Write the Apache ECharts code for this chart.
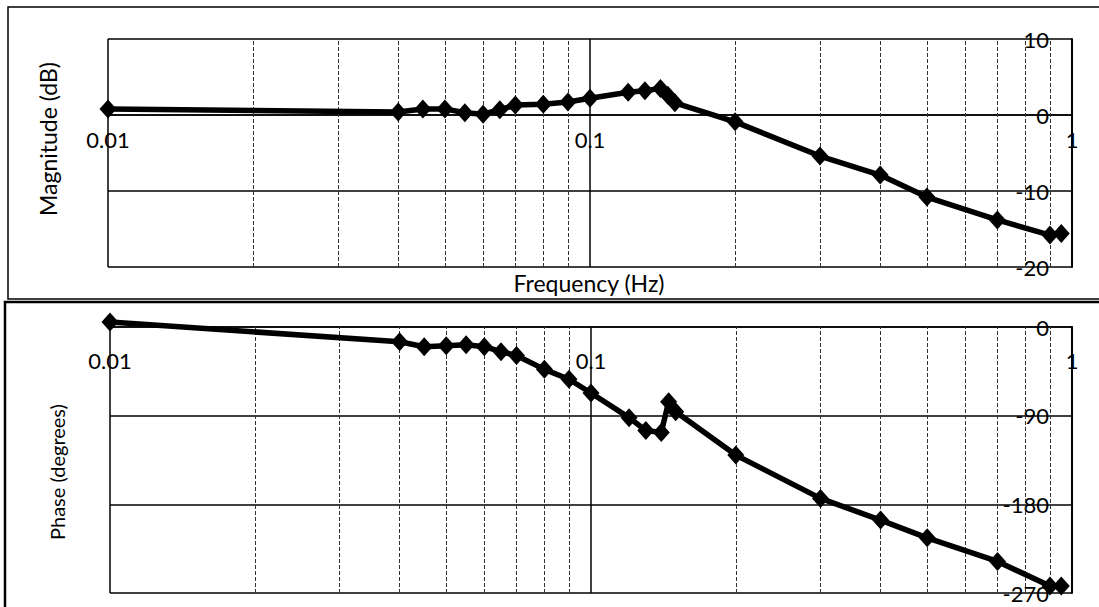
<!DOCTYPE html>
<html>
<head>
<meta charset="utf-8">
<title>Bode plot</title>
<script src="https://cdn.jsdelivr.net/npm/echarts@6/dist/echarts.min.js"></script>
<style>
  html, body { margin: 0; padding: 0; background: #fff; }
  #chart { width: 1099px; height: 607px; }
</style>
</head>
<body>
<div id="chart"></div>
<script>
// Measured frequency response
const freqHz = [0.01, 0.04, 0.045, 0.05, 0.055, 0.06, 0.065, 0.07, 0.08, 0.09, 0.1,
                0.12, 0.13, 0.14, 0.145, 0.15, 0.2, 0.3, 0.4, 0.5, 0.7, 0.9, 0.95];
const magnitudeDb = [0.8, 0.4, 0.8, 0.8, 0.3, 0.1, 0.7, 1.3, 1.4, 1.7, 2.2,
                     3.0, 3.2, 3.5, 2.6, 1.6, -0.9, -5.4, -7.9, -10.8, -13.8, -15.8, -15.6];
const phaseDeg = [5, -15, -20, -19, -18, -20, -25, -29, -43, -53, -67,
                  -92, -105, -107, -76, -86, -130, -174, -196, -214, -238, -263, -263];

// Axis ranges and ticks
const freqRange = [0.01, 1];
const minorFreqTicks = [0.02, 0.03, 0.04, 0.05, 0.06, 0.07, 0.08, 0.09,
                        0.2, 0.3, 0.4, 0.5, 0.6, 0.7, 0.8, 0.9];
const magRange = [-20, 10];
const magStep = 10;
const phaseRange = [-270, 0];
const phaseStep = 90;

const FONT = 'Lato, "Open Sans", sans-serif';
const chart = echarts.init(document.getElementById('chart'), null, { renderer: 'svg' });

const grids = [
  { left: 108, right: 27, top: 39, height: 228 },
  { left: 110, right: 27, top: 327, height: 266 }
];

// Frequency axis crosses its value axis at 0: shift it up from the bottom edge
// by the fraction of the value range that lies below zero.
function freqAxis(gridIndex, range, labelMargin) {
  const belowZero = (0 - range[0]) / (range[1] - range[0]);
  return {
    type: 'log', logBase: 10, gridIndex, position: 'bottom',
    offset: -grids[gridIndex].height * belowZero,
    min: freqRange[0], max: freqRange[1],
    axisLine: { show: true, onZero: false, lineStyle: { color: '#000', width: 1.5 } },
    axisTick: { show: false },
    axisLabel: { color: '#000', fontFamily: FONT, fontSize: 22, margin: labelMargin },
    splitLine: { show: true, lineStyle: { color: '#000', width: 1.5 } }
  };
}

function valueAxis(gridIndex, range, step) {
  return {
    type: 'value', gridIndex, position: 'right',
    min: range[0], max: range[1], interval: step,
    axisLine: { show: true, onZero: false, lineStyle: { color: '#000', width: 2 } },
    axisTick: { show: false },
    axisLabel: { inside: true, margin: 23, color: '#000', fontFamily: FONT, fontSize: 22 },
    splitLine: { show: true, lineStyle: { color: '#000', width: 1.5 } }
  };
}

function responseSeries(idx, values) {
  return {
    type: 'line', xAxisIndex: idx, yAxisIndex: idx,
    data: freqHz.map((f, i) => [f, values[i]]),
    symbol: 'diamond', symbolSize: [17, 19],
    lineStyle: { color: '#000', width: 5.5 },
    itemStyle: { color: '#000' },
    clip: false, z: 3,
    markLine: {
      silent: true, symbol: 'none', z: 1, animation: false,
      label: { show: false },
      lineStyle: { color: '#333', type: [4, 2], width: 1 },
      data: minorFreqTicks.map(v => ({ xAxis: v }))
    }
  };
}

chart.setOption({
  animation: false,
  backgroundColor: '#fff',
  grid: grids,
  xAxis: [freqAxis(0, magRange, 13), freqAxis(1, phaseRange, 22)],
  yAxis: [valueAxis(0, magRange, magStep), valueAxis(1, phaseRange, phaseStep)],
  series: [responseSeries(0, magnitudeDb), responseSeries(1, phaseDeg)],
  graphic: [
    { type: 'rect', silent: true, z: 0,
      shape: { x: 8, y: 7, width: 1110, height: 292 },
      style: { fill: 'none', stroke: '#000', lineWidth: 1.5 } },
    { type: 'rect', silent: true, z: 0,
      shape: { x: 5, y: 302, width: 1110, height: 320 },
      style: { fill: 'none', stroke: '#000', lineWidth: 2.5 } },
    { type: 'text', x: 48, y: 139, rotation: Math.PI / 2,
      style: { text: 'Magnitude (dB)', fill: '#000', font: '23px ' + FONT,
               align: 'center', verticalAlign: 'middle' } },
    { type: 'text', x: 57, y: 472, rotation: Math.PI / 2,
      style: { text: 'Phase (degrees)', fill: '#000', font: '20px ' + FONT,
               align: 'center', verticalAlign: 'middle' } },
    { type: 'text', x: 589, y: 283,
      style: { text: 'Frequency (Hz)', fill: '#000', font: '23px ' + FONT,
               align: 'center', verticalAlign: 'middle' } }
  ]
});
</script>
</body>
</html>
